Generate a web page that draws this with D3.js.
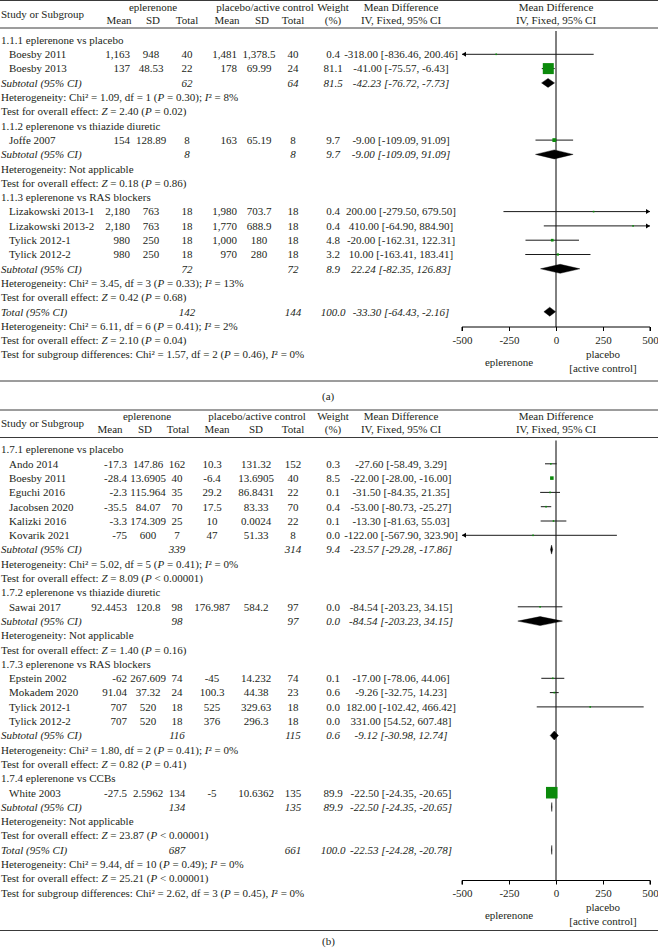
<!DOCTYPE html>
<html>
<head>
<meta charset="utf-8">
<script src="https://cdn.jsdelivr.net/npm/d3@7"></script>
<style>
body { margin: 0; background: #fff; }
svg text { font-family: "Liberation Serif", "Times New Roman", serif; font-size: 11px; fill: #231f20; }
</style>
</head>
<body>
<svg width="658" height="950"></svg>
<script>
// row kinds: g = subgroup title, s = study, t = subtotal / total, n = note line (*..* = italic)
var rowsA = [
  {k: "g", label: "1.1.1 eplerenone vs placebo"},
  {k: "s", label: "Boesby 2011", e: ["1,163", "948", "40"], c: ["1,481", "1,378.5", "40"], w: 0.4, md: -318.00, lo: -836.46, hi: 200.46},
  {k: "s", label: "Boesby 2013", e: ["137", "48.53", "22"], c: ["178", "69.99", "24"], w: 81.1, md: -41.00, lo: -75.57, hi: -6.43},
  {k: "t", label: "Subtotal (95% CI)", e: ["", "", "62"], c: ["", "", "64"], w: 81.5, md: -42.23, lo: -76.72, hi: -7.73},
  {k: "n", label: "Heterogeneity: Chi² = 1.09, df = 1 (*P* = 0.30); *I*² = 8%"},
  {k: "n", label: "Test for overall effect: *Z* = 2.40 (*P* = 0.02)"},
  {k: "g", label: "1.1.2 eplerenone vs thiazide diuretic"},
  {k: "s", label: "Joffe 2007", e: ["154", "128.89", "8"], c: ["163", "65.19", "8"], w: 9.7, md: -9.00, lo: -109.09, hi: 91.09},
  {k: "t", label: "Subtotal (95% CI)", e: ["", "", "8"], c: ["", "", "8"], w: 9.7, md: -9.00, lo: -109.09, hi: 91.09},
  {k: "n", label: "Heterogeneity: Not applicable"},
  {k: "n", label: "Test for overall effect: *Z* = 0.18 (*P* = 0.86)"},
  {k: "g", label: "1.1.3 eplerenone vs RAS blockers"},
  {k: "s", label: "Lizakowski 2013-1", e: ["2,180", "763", "18"], c: ["1,980", "703.7", "18"], w: 0.4, md: 200.00, lo: -279.50, hi: 679.50},
  {k: "s", label: "Lizakowski 2013-2", e: ["2,180", "763", "18"], c: ["1,770", "688.9", "18"], w: 0.4, md: 410.00, lo: -64.90, hi: 884.90},
  {k: "s", label: "Tylick 2012-1", e: ["980", "250", "18"], c: ["1,000", "180", "18"], w: 4.8, md: -20.00, lo: -162.31, hi: 122.31},
  {k: "s", label: "Tylick 2012-2", e: ["980", "250", "18"], c: ["970", "280", "18"], w: 3.2, md: 10.00, lo: -163.41, hi: 183.41},
  {k: "t", label: "Subtotal (95% CI)", e: ["", "", "72"], c: ["", "", "72"], w: 8.9, md: 22.24, lo: -82.35, hi: 126.83},
  {k: "n", label: "Heterogeneity: Chi² = 3.45, df = 3 (*P* = 0.33); *I*² = 13%"},
  {k: "n", label: "Test for overall effect: *Z* = 0.42 (*P* = 0.68)"},
  {k: "t", label: "Total (95% CI)", e: ["", "", "142"], c: ["", "", "144"], w: 100.0, md: -33.30, lo: -64.43, hi: -2.16},
  {k: "n", label: "Heterogeneity: Chi² = 6.11, df = 6 (*P* = 0.41); *I*² = 2%"},
  {k: "n", label: "Test for overall effect: *Z* = 2.10 (*P* = 0.04)"},
  {k: "n", label: "Test for subgroup differences: Chi² = 1.57, df = 2 (*P* = 0.46), *I*² = 0%"}
];

var rowsB = [
  {k: "g", label: "1.7.1 eplerenone vs placebo"},
  {k: "s", label: "Ando 2014", e: ["-17.3", "147.86", "162"], c: ["10.3", "131.32", "152"], w: 0.3, md: -27.60, lo: -58.49, hi: 3.29},
  {k: "s", label: "Boesby 2011", e: ["-28.4", "13.6905", "40"], c: ["-6.4", "13.6905", "40"], w: 8.5, md: -22.00, lo: -28.00, hi: -16.00},
  {k: "s", label: "Eguchi 2016", e: ["-2.3", "115.964", "35"], c: ["29.2", "86.8431", "22"], w: 0.1, md: -31.50, lo: -84.35, hi: 21.35},
  {k: "s", label: "Jacobsen 2020", e: ["-35.5", "84.07", "70"], c: ["17.5", "83.33", "70"], w: 0.4, md: -53.00, lo: -80.73, hi: -25.27},
  {k: "s", label: "Kalizki 2016", e: ["-3.3", "174.309", "25"], c: ["10", "0.0024", "22"], w: 0.1, md: -13.30, lo: -81.63, hi: 55.03},
  {k: "s", label: "Kovarik 2021", e: ["-75", "600", "7"], c: ["47", "51.33", "8"], w: 0.0, md: -122.00, lo: -567.90, hi: 323.90},
  {k: "t", label: "Subtotal (95% CI)", e: ["", "", "339"], c: ["", "", "314"], w: 9.4, md: -23.57, lo: -29.28, hi: -17.86},
  {k: "n", label: "Heterogeneity: Chi² = 5.02, df = 5 (*P* = 0.41); *I*² = 0%"},
  {k: "n", label: "Test for overall effect: *Z* = 8.09 (*P* < 0.00001)"},
  {k: "g", label: "1.7.2 eplerenone vs thiazide diuretic"},
  {k: "s", label: "Sawai 2017", e: ["92.4453", "120.8", "98"], c: ["176.987", "584.2", "97"], w: 0.0, md: -84.54, lo: -203.23, hi: 34.15},
  {k: "t", label: "Subtotal (95% CI)", e: ["", "", "98"], c: ["", "", "97"], w: 0.0, md: -84.54, lo: -203.23, hi: 34.15},
  {k: "n", label: "Heterogeneity: Not applicable"},
  {k: "n", label: "Test for overall effect: *Z* = 1.40 (*P* = 0.16)"},
  {k: "g", label: "1.7.3 eplerenone vs RAS blockers"},
  {k: "s", label: "Epstein 2002", e: ["-62", "267.609", "74"], c: ["-45", "14.232", "74"], w: 0.1, md: -17.00, lo: -78.06, hi: 44.06},
  {k: "s", label: "Mokadem 2020", e: ["91.04", "37.32", "24"], c: ["100.3", "44.38", "23"], w: 0.6, md: -9.26, lo: -32.75, hi: 14.23},
  {k: "s", label: "Tylick 2012-1", e: ["707", "520", "18"], c: ["525", "329.63", "18"], w: 0.0, md: 182.00, lo: -102.42, hi: 466.42},
  {k: "s", label: "Tylick 2012-2", e: ["707", "520", "18"], c: ["376", "296.3", "18"], w: 0.0, md: 331.00, lo: 54.52, hi: 607.48, noPlot: true},
  {k: "t", label: "Subtotal (95% CI)", e: ["", "", "116"], c: ["", "", "115"], w: 0.6, md: -9.12, lo: -30.98, hi: 12.74},
  {k: "n", label: "Heterogeneity: Chi² = 1.80, df = 2 (*P* = 0.41); *I*² = 0%"},
  {k: "n", label: "Test for overall effect: *Z* = 0.82 (*P* = 0.41)"},
  {k: "g", label: "1.7.4 eplerenone vs CCBs"},
  {k: "s", label: "White 2003", e: ["-27.5", "2.5962", "134"], c: ["-5", "10.6362", "135"], w: 89.9, md: -22.50, lo: -24.35, hi: -20.65},
  {k: "t", label: "Subtotal (95% CI)", e: ["", "", "134"], c: ["", "", "135"], w: 89.9, md: -22.50, lo: -24.35, hi: -20.65},
  {k: "n", label: "Heterogeneity: Not applicable"},
  {k: "n", label: "Test for overall effect: *Z* = 23.87 (*P* < 0.00001)"},
  {k: "t", label: "Total (95% CI)", e: ["", "", "687"], c: ["", "", "661"], w: 100.0, md: -22.53, lo: -24.28, hi: -20.78},
  {k: "n", label: "Heterogeneity: Chi² = 9.44, df = 10 (*P* = 0.49); *I*² = 0%"},
  {k: "n", label: "Test for overall effect: *Z* = 25.21 (*P* < 0.00001)"},
  {k: "n", label: "Test for subgroup differences: Chi² = 2.62, df = 3 (*P* = 0.45), *I*² = 0%"}
];

var axisTicks = [-500, -250, 0, 250, 500];
var favours = ["eplerenone", "placebo", "[active control]"];

// column positions [x, anchor] : eMean, eSD, eTotal, cMean, cSD, cTotal
var colsA = [[130, "end"], [151, "middle"], [187, "middle"], [237, "end"], [259, "middle"], [293, "middle"]];
var colsB = [[127, "end"], [148, "middle"], [177, "middle"], [212, "middle"], [256, "middle"], [293, "middle"]];
var headA = {ep: 153, pl: 265, sub: [119, 153, 187, 227, 262, 293]};
var headB = {ep: 147, pl: 257, sub: [110, 145, 178, 217, 256, 293]};

var svg = d3.select("svg");
var green = "#0b8a0b";
var x = d3.scaleLinear().domain([-500, 500]).range([462, 650]);
var step = 14.3;
var wCol = 333, mdCol = 401;

function fmt(v) { return v.toFixed(2); }

function richText(sel, str) {
  str.split("*").forEach(function (part, i) {
    if (part === "") return;
    sel.append("tspan").attr("font-style", i % 2 ? "italic" : null).text(part);
  });
}

function hline(g, y) {
  g.append("line").attr("x1", 0).attr("x2", 658).attr("y1", y).attr("y2", y)
    .attr("stroke", "#3a3a3a").attr("stroke-width", 1);
}

function txt(g, xp, y, s, anchor, italic) {
  return g.append("text").attr("x", xp).attr("y", y).attr("dy", "0.35em")
    .attr("text-anchor", anchor || "start")
    .attr("font-style", italic ? "italic" : null)
    .text(s);
}

function drawPanel(top, rows, cols, head, axisY, lineBelow, tag, tagY) {
  var g = svg.append("g").attr("transform", "translate(0," + top + ")");

  hline(g, 0.5);
  hline(g, 28);
  txt(g, 1, 14, "Study or Subgroup");
  txt(g, head.ep, 7, "eplerenone", "middle");
  txt(g, head.pl, 7, "placebo/active control", "middle");
  ["Mean", "SD", "Total", "Mean", "SD", "Total"].forEach(function (h, i) {
    txt(g, head.sub[i], 20, h, "middle");
  });
  txt(g, wCol, 7, "Weight", "middle");
  txt(g, wCol, 20, "(%)", "middle");
  txt(g, mdCol, 7, "Mean Difference", "middle");
  txt(g, mdCol, 20, "IV, Fixed, 95% CI", "middle");
  txt(g, x(0), 7, "Mean Difference", "middle");
  txt(g, x(0), 20, "IV, Fixed, 95% CI", "middle");

  var y = function (i) { return 40 + i * step; };

  // zero line
  g.append("line").attr("x1", x(0)).attr("x2", x(0)).attr("y1", 31).attr("y2", axisY)
    .attr("stroke", "#000").attr("stroke-width", 1);

  rows.forEach(function (r, i) {
    var yy = y(i);
    if (r.k === "g" || r.k === "n") {
      richText(txt(g, 1, yy, ""), r.label);
      return;
    }
    var it = r.k === "t";
    txt(g, it ? 1 : 9, yy, r.label, "start", it);
    r.e.concat(r.c).forEach(function (v, j) {
      if (v !== "") txt(g, cols[j][0], yy, v, cols[j][1], it);
    });
    txt(g, wCol, yy, r.w.toFixed(1), "middle", it);
    txt(g, mdCol, yy, fmt(r.md) + " [" + fmt(r.lo) + ", " + fmt(r.hi) + "]", "middle", it);

    if (r.noPlot) return;
    if (it) {
      g.append("path")
        .attr("d", "M" + x(r.lo) + "," + yy + "L" + x(r.md) + "," + (yy - 4.5) +
          "L" + x(r.hi) + "," + yy + "L" + x(r.md) + "," + (yy + 4.5) + "Z")
        .attr("fill", "#000").attr("stroke", "#000").attr("stroke-width", 0.4);
      return;
    }
    var x0 = x(Math.max(r.lo, -500)), x1 = x(Math.min(r.hi, 500));
    g.append("line").attr("x1", x0).attr("x2", x1).attr("y1", yy).attr("y2", yy)
      .attr("stroke", "#1a1a1a").attr("stroke-width", 1);
    if (r.lo < -500) {
      g.append("path").attr("d", "M" + x0 + "," + yy + "l4,-2.5l0,5Z").attr("fill", "#000");
    }
    if (r.hi > 500) {
      g.append("path").attr("d", "M" + x1 + "," + yy + "l-4,-2.5l0,5Z").attr("fill", "#000");
    }
    var side = Math.max(1.6, 1.22 * Math.sqrt(r.w));
    g.append("rect").attr("x", x(r.md) - side / 2).attr("y", yy - side / 2)
      .attr("width", side).attr("height", side).attr("fill", green);
  });

  // axis
  var ax = g.append("g").attr("transform", "translate(0," + axisY + ")")
    .call(d3.axisBottom(x).tickValues(axisTicks).tickSize(4).tickFormat(function (d) { return String(d); }));
  ax.attr("font-family", null).attr("font-size", null);
  ax.select(".domain").attr("stroke", "#000").attr("d", "M" + x(-500) + ",4V0H" + x(500) + "V4");
  ax.selectAll(".tick line").attr("stroke", "#000");
  ax.selectAll(".tick text").attr("y", 9);

  txt(g, x(-250), axisY + 35, favours[0], "middle");
  txt(g, x(250), axisY + 27, favours[1], "middle");
  txt(g, x(250), axisY + 41, favours[2], "middle");

  hline(g, lineBelow);
  txt(g, 322, tagY, tag);
}

drawPanel(0, rowsA, colsA, headA, 327, 381, "(a)", 396);
drawPanel(409.5, rowsB, colsB, headB, 471, 521, "(b)", 532);
</script>
</body>
</html>
